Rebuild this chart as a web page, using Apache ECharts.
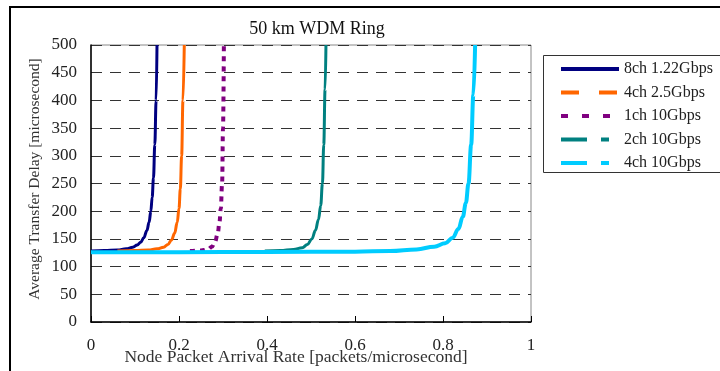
<!DOCTYPE html>
<html>
<head>
<meta charset="utf-8">
<script src="https://cdn.jsdelivr.net/npm/echarts@6/dist/echarts.min.js"></script>
<style>
  html, body { margin: 0; padding: 0; background: #fff; }
  #chart { width: 720px; height: 371px; }
</style>
</head>
<body>
<div id="chart"></div>
<script>
// series names
const seriesNames = ['8ch 1.22Gbps', '4ch 2.5Gbps', '1ch 10Gbps', '2ch 10Gbps', '4ch 10Gbps'];

// 8ch 1.22Gbps
const navyX = [0, 0.03, 0.06, 0.08, 0.095, 0.105, 0.113, 0.12, 0.127, 0.132, 0.136, 0.139, 0.142, 0.145, 0.148, 0.15];
const navyY = [128, 129, 130, 132, 135, 139, 144, 152, 165, 180, 200, 225, 260, 320, 400, 500];
// 4ch 2.5Gbps
const orangeX = [0.06, 0.1, 0.13, 0.15, 0.165, 0.175, 0.183, 0.19, 0.196, 0.2, 0.203, 0.206, 0.209, 0.212];
const orangeY = [128, 129, 130, 132, 135, 140, 148, 160, 180, 205, 240, 300, 400, 500];
// 1ch 10Gbps
const purpleX = [0.225, 0.25, 0.265, 0.275, 0.282, 0.288, 0.292, 0.295, 0.298, 0.3, 0.302];
const purpleY = [128, 129, 131, 136, 145, 160, 180, 205, 250, 350, 500];
// 2ch 10Gbps
const tealX = [0.395, 0.43, 0.46, 0.48, 0.492, 0.502, 0.51, 0.517, 0.522, 0.526, 0.529, 0.532, 0.534];
const tealY = [128, 129, 131, 134, 140, 150, 165, 185, 210, 250, 320, 420, 500];
// 4ch 10Gbps
const cyanX = [0, 0.2, 0.4, 0.6, 0.68, 0.74, 0.78, 0.805, 0.822, 0.835, 0.845, 0.852, 0.858, 0.864, 0.869, 0.873];
const cyanY = [126, 126, 126.5, 127, 128, 131, 136, 142, 152, 168, 190, 215, 250, 320, 410, 500];

const xs = [navyX, orangeX, purpleX, tealX, cyanX];
const ys = [navyY, orangeY, purpleY, tealY, cyanY];
const colors = ['#000080', '#ff6600', '#800080', '#008080', '#00ccff'];
const plotDash = ['solid', 'solid', [5, 5], 'solid', 'solid'];
const plotWidth = [3, 3, 4, 3, 4];
const legendDash = ['solid', [18, 20], [7, 14], [26, 14, 8, 14], [26, 14, 8, 14]];

const font = 'Liberation Serif';

const chart = echarts.init(document.getElementById('chart'), null, { renderer: 'canvas' });

const series = seriesNames.map((name, i) => ({
  name: name,
  type: 'line',
  data: xs[i].map((x, k) => [x, ys[i][k]]),
  symbol: 'none',
  smooth: 0.4,
  smoothMonotone: 'x',
  lineStyle: { color: colors[i], width: plotWidth[i], type: plotDash[i] },
  itemStyle: { color: colors[i] },
  z: 3 + i
}));

const option = {
  backgroundColor: '#ffffff',
  animation: false,
  grid: {
    left: 91, right: 189, top: 45, bottom: 49,
    show: true, borderColor: '#888', borderWidth: 1, backgroundColor: 'transparent'
  },
  xAxis: {
    type: 'value', min: 0, max: 1, interval: 0.2,
    axisLine: { lineStyle: { color: '#000', width: 1.5 } },
    axisTick: { show: true, inside: true, length: 6, lineStyle: { color: '#000' } },
    axisLabel: { fontFamily: font, fontSize: 17, color: '#222', margin: 15 },
    splitLine: { show: false }
  },
  yAxis: {
    type: 'value', min: 0, max: 500, interval: 50,
    axisLine: { show: true, lineStyle: { color: '#000', width: 1.5 } },
    axisTick: { show: false },
    axisLabel: { fontFamily: font, fontSize: 17, color: '#222', margin: 14 },
    splitLine: { show: true, lineStyle: { color: '#333', width: 1, type: [11, 8] } }
  },
  legend: {
    left: 559, top: 61, orient: 'vertical', padding: 0,
    itemWidth: 58, itemHeight: 14, itemGap: 7.5,
    textStyle: { fontFamily: font, fontSize: 16, color: '#222', padding: [0, 0, 0, 0] },
    data: seriesNames.map((name, i) => ({
      name: name,
      itemStyle: { opacity: 0 },
      lineStyle: { color: colors[i], width: 4, type: legendDash[i], opacity: 1 }
    }))
  },
  graphic: [
    { type: 'rect', shape: { x: 10, y: 7, width: 800, height: 500 }, style: { fill: 'none', stroke: '#000', lineWidth: 2 }, silent: true },
    { type: 'rect', shape: { x: 543.5, y: 55.5, width: 200, height: 117 }, style: { fill: 'none', stroke: '#333', lineWidth: 1 }, silent: true },
    { type: 'text', x: 317, y: 29, style: { text: '50 km WDM Ring', fontFamily: font, fontSize: 18, fill: '#111', align: 'center', verticalAlign: 'middle' } },
    { type: 'text', x: 296, y: 357, style: { text: 'Node Packet Arrival Rate [packets/microsecond]', fontFamily: font, fontSize: 17.5, fill: '#333', align: 'center', verticalAlign: 'middle' } },
    { type: 'text', x: 35, y: 179, rotation: Math.PI / 2, style: { text: 'Average Transfer Delay [microsecond]', fontFamily: font, fontSize: 15.5, fill: '#333', align: 'center', verticalAlign: 'middle' } }
  ],
  series: series
};

chart.setOption(option);
</script>
</body>
</html>
